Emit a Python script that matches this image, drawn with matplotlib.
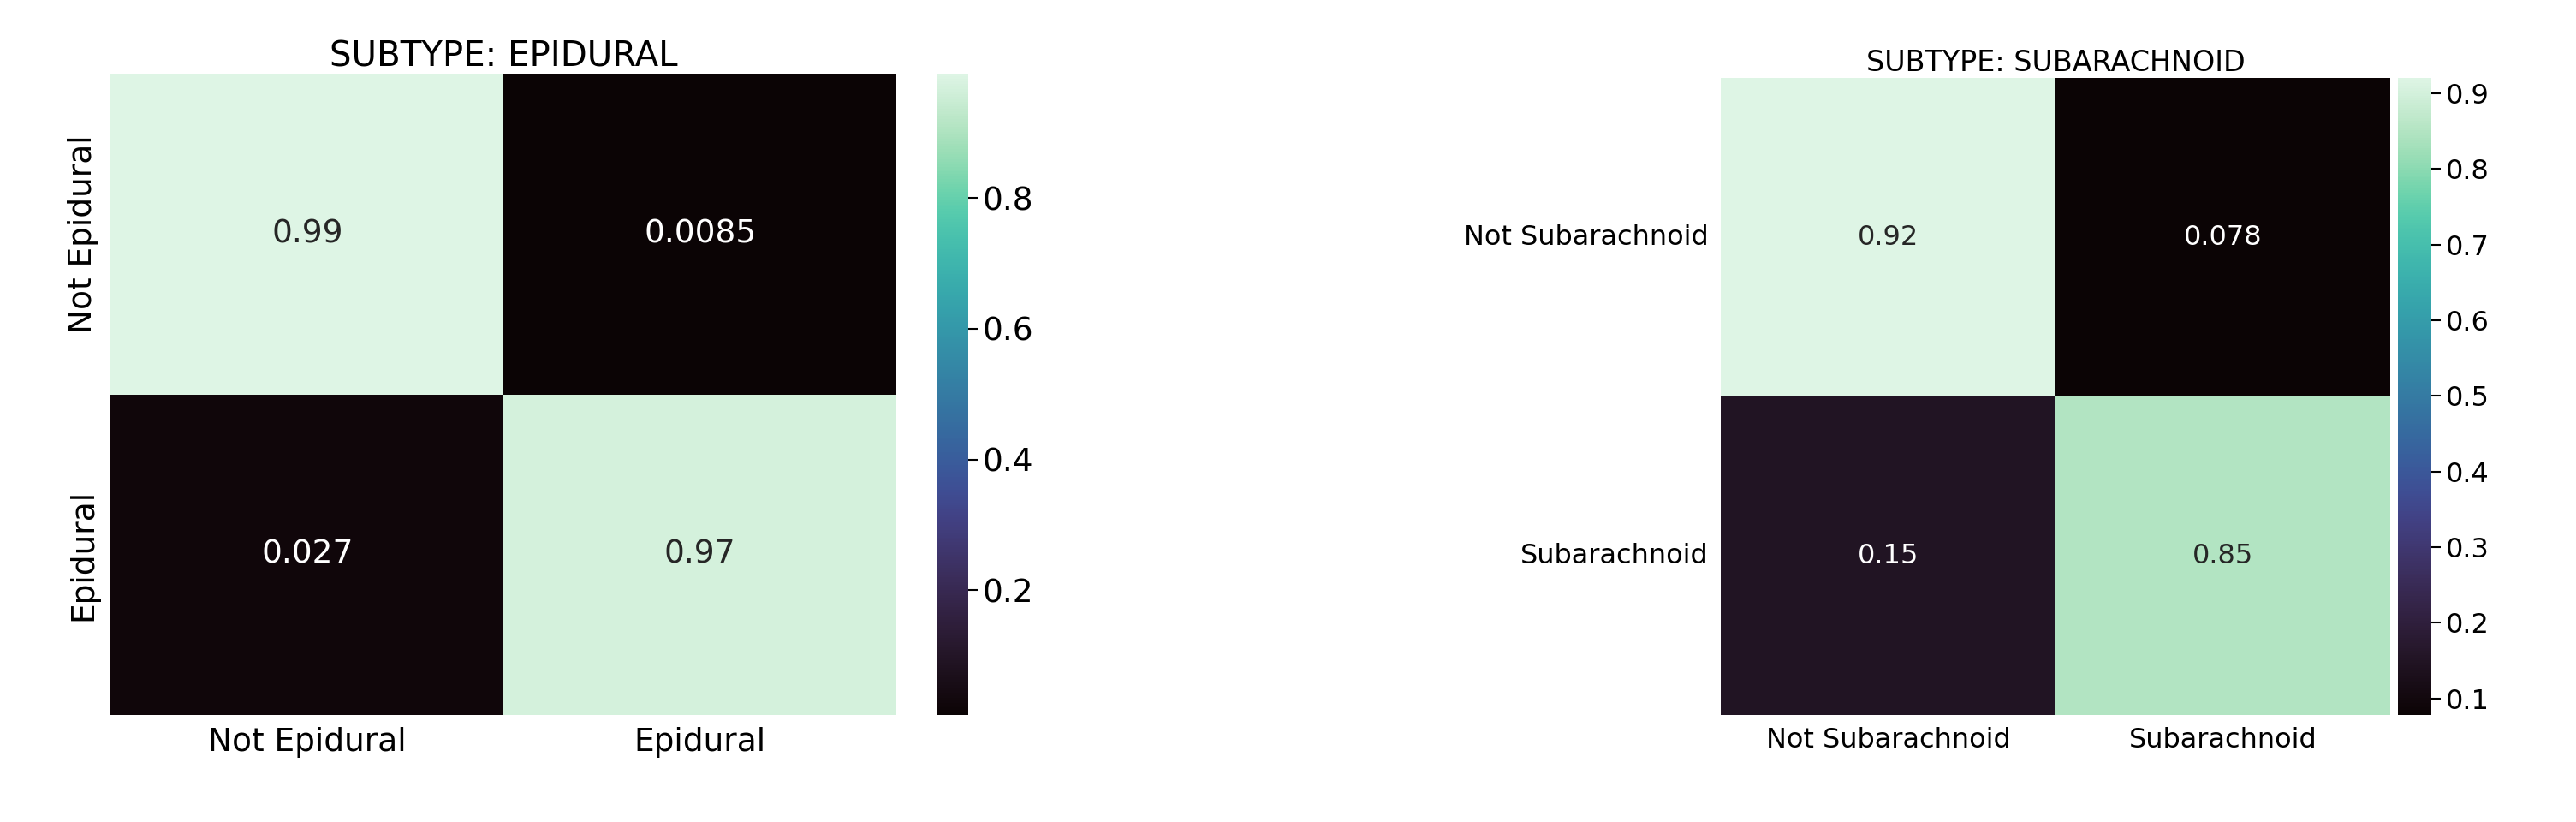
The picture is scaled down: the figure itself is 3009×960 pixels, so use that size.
import numpy as np
import matplotlib
matplotlib.use('Agg')
import matplotlib.pyplot as plt
import seaborn as sns

# confusion matrices (row-normalised)
epi_labels = ['Not Epidural', 'Epidural']
epi_values = np.array([[0.99, 0.0085],
                       [0.027, 0.97]])

sub_labels = ['Not Subarachnoid', 'Subarachnoid']
sub_values = np.array([[0.92, 0.078],
                       [0.15, 0.85]])

fig = plt.figure(figsize=(30.09, 9.6), dpi=100)

ax1 = fig.add_axes([0.043, 0.13, 0.305, 0.78])
cax1 = fig.add_axes([0.364, 0.13, 0.012, 0.78])
ax2 = fig.add_axes([0.668, 0.13, 0.260, 0.775])
cax2 = fig.add_axes([0.931, 0.13, 0.013, 0.775])

sns.heatmap(epi_values, annot=True, fmt='.2g', cmap='mako', ax=ax1, cbar_ax=cax1,
            xticklabels=epi_labels, yticklabels=epi_labels,
            annot_kws={'fontsize': 27})
ax1.set_title('SUBTYPE: EPIDURAL', fontsize=29)
ax1.tick_params(labelsize=27, length=0, pad=10)
cax1.tick_params(labelsize=27, length=8, width=1.5)
ax1.set_yticklabels(epi_labels, rotation=90, va='center')

sns.heatmap(sub_values, annot=True, fmt='.2g', cmap='mako', ax=ax2, cbar_ax=cax2,
            xticklabels=sub_labels, yticklabels=sub_labels,
            annot_kws={'fontsize': 23})
ax2.set_title('SUBTYPE: SUBARACHNOID', fontsize=24)
ax2.tick_params(labelsize=23, length=0, pad=10)
cax2.tick_params(labelsize=23, length=8, width=1.5)
ax2.set_yticklabels(sub_labels, rotation=0, va='center')

for c in (cax1, cax2):
    c.set_frame_on(False)

fig.savefig('out.png', dpi=100)
